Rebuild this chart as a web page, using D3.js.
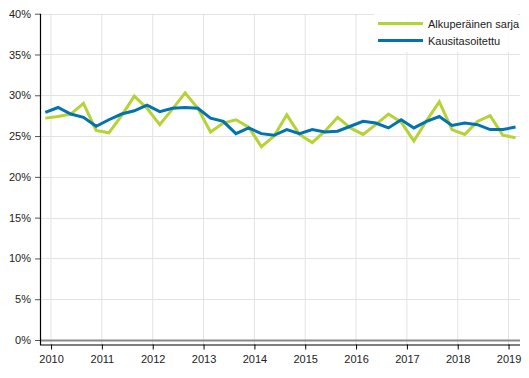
<!DOCTYPE html>
<html>
<head>
<meta charset="utf-8">
<script src="https://cdn.jsdelivr.net/npm/d3@7"></script>
<style>
  body { margin: 0; background: #fff; }
  text { font-family: Arial, "Liberation Sans", sans-serif; }
</style>
</head>
<body>
<svg id="chart" width="529" height="378"></svg>
<script>
// ---- data ----
const years = [2010, 2011, 2012, 2013, 2014, 2015, 2016, 2017, 2018, 2019];
const quarters = [];
years.forEach(yr => [1, 2, 3, 4].forEach(q => quarters.push(yr + "Q" + q)));
const categories = quarters.slice(0, 38); // 2010Q1 .. 2019Q2

const original = [27.2, 27.4, 27.7, 29.0, 25.7, 25.4, 27.5, 29.9, 28.4, 26.4,
                  28.3, 30.3, 28.4, 25.5, 26.6, 27.0, 26.1, 23.7, 25.0, 27.6,
                  25.2, 24.2, 25.6, 27.3, 26.0, 25.2, 26.4, 27.7, 26.7, 24.4,
                  26.9, 29.2, 25.8, 25.2, 26.8, 27.5, 25.1, 24.8];
const seasonal = [27.9, 28.5, 27.7, 27.3, 26.2, 27.0, 27.7, 28.1, 28.8, 28.0,
                  28.4, 28.5, 28.4, 27.2, 26.8, 25.3, 26.0, 25.3, 25.1, 25.8,
                  25.3, 25.8, 25.5, 25.6, 26.2, 26.8, 26.6, 26.0, 27.0, 26.0,
                  26.8, 27.4, 26.3, 26.6, 26.4, 25.8, 25.8, 26.1];
const yTicks = [0, 5, 10, 15, 20, 25, 30, 35, 40];
const seriesNames = ["Alkuperäinen sarja", "Kausitasoitettu"];
const seriesColors = ["#b5d334", "#0073b0"];

(function () {
// ---- layout ----
const svg = d3.select("#chart");
const pLeft = 40, pRight = 520, pTop = 13.7, zeroY = 340, axisY = 344.5;

const x = d3.scaleLinear().domain([-0.42, 37.35]).range([pLeft, pRight]);
const y = d3.scaleLinear().domain([0, 40]).range([zeroY, pTop]);
const yearPos = years.map((yr, k) => 0.45 + 4 * k);

// vertical gridlines
svg.append("g").selectAll("line").data(yearPos).join("line")
  .attr("x1", d => x(d)).attr("x2", d => x(d))
  .attr("y1", pTop).attr("y2", axisY)
  .attr("stroke", "#e3e3e3").attr("stroke-width", 1);

// horizontal gridlines
svg.append("g").selectAll("line").data(yTicks).join("line")
  .attr("x1", pLeft).attr("x2", pRight)
  .attr("y1", d => Math.round(y(d)) + 0.5).attr("y2", d => Math.round(y(d)) + 0.5)
  .attr("stroke", d => d === 0 ? "#8a8a8a" : "#e3e3e3")
  .attr("stroke-width", d => d === 0 ? 2 : 1);

// y axis
const yAxis = d3.axisLeft(y).tickValues(yTicks).tickFormat(d => d + "%").tickSize(5).tickPadding(4);
const gy = svg.append("g").attr("transform", `translate(${pLeft},0)`).call(yAxis);
gy.select(".domain").remove();
gy.selectAll(".tick line").attr("stroke", "#555");
gy.selectAll(".tick text").attr("font-size", 11).attr("fill", "#222")
  .attr("font-family", "Arial, 'Liberation Sans', sans-serif");
svg.append("line").attr("x1", pLeft + 0.5).attr("x2", pLeft + 0.5)
  .attr("y1", pTop).attr("y2", axisY + 0.5).attr("stroke", "#000").attr("stroke-width", 1.2);

// x axis
const xAxis = d3.axisBottom(x).tickValues(yearPos).tickFormat((d, i) => years[i]).tickSize(5).tickPadding(6);
const gx = svg.append("g").attr("transform", `translate(0,${axisY})`).call(xAxis);
gx.select(".domain").attr("d", `M${pLeft},0.5H${pRight}`).attr("stroke", "#000").attr("stroke-width", 1.2);
gx.selectAll(".tick line").attr("stroke", "#000");
gx.selectAll(".tick text").attr("font-size", 11).attr("fill", "#222")
  .attr("font-family", "Arial, 'Liberation Sans', sans-serif");

// lines
const line = d3.line().x((d, i) => x(i)).y(d => y(d));
[original, seasonal].forEach((vals, k) => {
  svg.append("path").datum(vals)
    .attr("fill", "none").attr("stroke", seriesColors[k])
    .attr("stroke-width", 3).attr("stroke-linejoin", "miter")
    .attr("d", line);
});

// legend
const lg = svg.append("g");
lg.append("rect").attr("x", 374).attr("y", 12).attr("width", 144).attr("height", 40)
  .attr("fill", "#fff").attr("opacity", 0.85);
seriesNames.forEach((name, k) => {
  const ly = 23.5 + k * 17;
  lg.append("line").attr("x1", 378).attr("x2", 423).attr("y1", ly).attr("y2", ly)
    .attr("stroke", seriesColors[k]).attr("stroke-width", 3);
  lg.append("text").attr("x", 428).attr("y", ly + 4).attr("font-size", 11)
    .attr("fill", "#222").text(name);
});
})();
</script>
</body>
</html>
